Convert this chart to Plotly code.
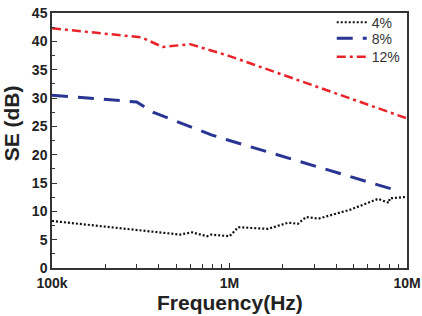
import plotly.graph_objects as go

# 4% sample
f4 = [1e5, 2.86e5, 5.25e5, 6.15e5, 7.46e5, 7.87e5, 1.0e6, 1.12e6, 1.65e6, 2.14e6, 2.43e6, 2.7e6, 3.16e6, 4.8e6, 6.87e6, 7.9e6, 8.0e6, 9.6e6, 1e7]
se4 = [8.3, 6.7, 5.9, 6.3, 5.6, 5.9, 5.6, 7.2, 6.9, 8.0, 7.8, 9.0, 8.7, 10.3, 12.2, 11.5, 12.3, 12.5, 12.5]
# 8% sample
f8 = [1e5, 3.0e5, 3.7e5, 7.9e5, 1.0e6, 8.5e6]
se8 = [30.5, 29.3, 27.5, 23.5, 22.5, 13.8]
# 12% sample
f12 = [1e5, 3.2e5, 4.2e5, 6.0e5, 1.0e6, 1e7]
se12 = [42.3, 40.7, 39.0, 39.5, 37.4, 26.4]

xtick_vals = [1e5, 1e6, 1e7]
xtick_text = ["100k", "1M", "10M"]
xminor = [m * 10**e for e in (5, 6) for m in range(2, 10)]
ytick_vals = list(range(0, 46, 5))

FONT = "Liberation Sans, Arial"

fig = go.Figure()
fig.add_trace(go.Scatter(x=f4, y=se4, mode="lines", name="4%", legend="legend",
                         line=dict(color="#111111", width=2.2, dash="2px,2px")))
fig.add_trace(go.Scatter(x=f8, y=se8, mode="lines", name="8%", legend="legend2",
                         line=dict(color="#283593", width=3, dash="16px,10px")))
fig.add_trace(go.Scatter(x=f12, y=se12, mode="lines", name="12%", legend="legend3",
                         line=dict(color="#e8242a", width=2.5, dash="9px,4px,3px,4px")))

legfont = dict(size=14, color="#333333", family=FONT)
def leg(y):
    return dict(x=0.788, y=y, xanchor="left", yanchor="top",
                bgcolor="rgba(0,0,0,0)", font=legfont, itemwidth=30)

tickfont = dict(family=FONT, size=14, color="#222222", weight="bold")
fig.update_layout(
    width=422, height=316,
    margin=dict(l=52, r=15, t=7, b=48),
    paper_bgcolor="white", plot_bgcolor="white",
    font=dict(family=FONT, color="#222222"),
    showlegend=True,
    legend=leg(1.025), legend2=leg(0.962), legend3=leg(0.89),
    xaxis=dict(type="log", range=[5, 7], tickmode="array", tickvals=xtick_vals,
               ticktext=xtick_text, ticks="inside", ticklen=5, tickcolor="#333",
               showline=True, linecolor="#333", linewidth=1.5, mirror=True,
               showgrid=False, zeroline=False, tickfont=tickfont, automargin=False,
               ticklabelstandoff=1,
               minor=dict(tickvals=xminor, ticks="inside", ticklen=4, tickcolor="#333", showgrid=False)),
    yaxis=dict(range=[0, 45], tickmode="array", tickvals=ytick_vals,
               ticks="inside", ticklen=5, tickcolor="#333",
               showline=True, linecolor="#333", linewidth=1.5, mirror=True,
               showgrid=False, zeroline=False, tickfont=tickfont, automargin=False,
               minor=dict(dtick=2.5, ticks="inside", ticklen=3, tickcolor="#333", showgrid=False)),
    annotations=[
        dict(text="Frequency(Hz)", xref="paper", yref="paper", x=0.50, y=-0.134,
             xanchor="center", yanchor="middle", showarrow=False,
             font=dict(family=FONT, size=21, weight="bold", color="#222")),
        dict(text="SE (dB)", xref="paper", yref="paper", x=-0.113, y=0.567,
             xanchor="center", yanchor="middle", showarrow=False, textangle=-90,
             font=dict(family=FONT, size=21, weight="bold", color="#222")),
    ],
)
fig.write_html("out.html")
